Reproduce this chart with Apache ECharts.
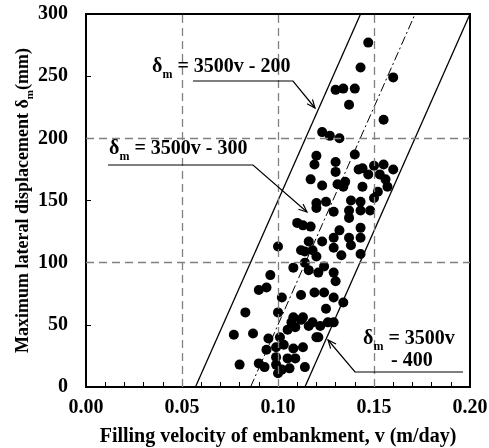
<!DOCTYPE html>
<html>
<head>
<meta charset="utf-8">
<script src="https://cdn.jsdelivr.net/npm/echarts@6/dist/echarts.min.js"></script>
<style>
  html, body { margin: 0; padding: 0; background: #fff; }
  #chart { width: 489px; height: 448px; }
</style>
</head>
<body>
<div id="chart"></div>
<script>
// measured points: filling velocity v (m/day) and max lateral displacement (mm)
const velocity = [
  0.147, 0.143, 0.160, 0.130, 0.134, 0.140, 0.137, 0.155, 0.123, 0.127,
  0.132, 0.120, 0.119, 0.130, 0.130, 0.140, 0.117, 0.123, 0.131, 0.135,
  0.134, 0.144, 0.142, 0.150, 0.155, 0.160, 0.147, 0.153, 0.156, 0.144,
  0.157, 0.152, 0.150, 0.143, 0.138, 0.120, 0.125, 0.120, 0.129, 0.137,
  0.143, 0.148, 0.137, 0.117, 0.113, 0.143, 0.132, 0.129, 0.123, 0.137,
  0.143, 0.116, 0.129, 0.138, 0.133, 0.143, 0.120, 0.114, 0.110, 0.100,
  0.112, 0.118, 0.114, 0.108, 0.116, 0.121, 0.124, 0.096, 0.094, 0.090,
  0.102, 0.112, 0.119, 0.124, 0.083, 0.100, 0.108, 0.125, 0.107, 0.112,
  0.116, 0.122, 0.077, 0.087, 0.095, 0.101, 0.105, 0.109, 0.120, 0.126,
  0.094, 0.099, 0.103, 0.108, 0.113, 0.099, 0.105, 0.109, 0.080, 0.090,
  0.093, 0.099, 0.102, 0.106, 0.114, 0.100, 0.129, 0.130, 0.129, 0.134,
  0.113, 0.118, 0.129, 0.121
];
const displacement = [
  277, 257, 249, 239, 240, 240, 227, 215, 205, 202,
  200, 186, 179, 181, 173, 187, 167, 162, 163, 165,
  161, 176, 175, 178, 179, 175, 171, 171, 167, 161,
  161, 157, 152, 149, 150, 148, 149, 144, 141, 142,
  142, 142, 136, 129, 130, 128, 126, 120, 117, 120,
  120, 117, 112, 114, 106, 107, 105, 109, 132, 113,
  110, 110, 100, 96, 94, 92, 97, 90, 80, 78,
  72, 74, 76, 76, 60, 60, 56, 63, 52, 54,
  49, 49, 42, 43, 39, 40, 46, 48, 40, 52,
  30, 32, 34, 31, 32, 24, 23, 23, 18, 19,
  16, 18, 14, 15, 16, 11, 92, 85, 72, 68,
  56, 52, 52, 40
];

// bounding lines: delta_m = 3500v - 200 / - 300 / - 400
const upperLine = [[0.057, 0], [0.143, 300]];
const middleLine = [[0.0857, 0], [0.1714, 300]];
const lowerLine = [[0.114, 0], [0.200, 300]];

const xGridValues = [0.05, 0.10, 0.15];
const yGridValues = [100, 200];

const FONT = 'Liberation Serif';

const points = velocity.map((v, i) => [v, displacement[i]]);

// leader line with open arrowhead at the last point
function leader(pts) {
  const n = pts.length;
  const [x1, y1] = pts[n - 2];
  const [x2, y2] = pts[n - 1];
  const a = Math.atan2(y2 - y1, x2 - x1);
  const len = 9, spread = 0.4;
  const head = [
    [x2 - len * Math.cos(a - spread), y2 - len * Math.sin(a - spread)],
    [x2, y2],
    [x2 - len * Math.cos(a + spread), y2 - len * Math.sin(a + spread)]
  ];
  const style = { stroke: '#000', lineWidth: 1.2, fill: null };
  return [
    { type: 'polyline', shape: { points: pts }, style: style, z: 20 },
    { type: 'polyline', shape: { points: head }, style: style, z: 20 }
  ];
}

const labelRich = {
  b: { fontFamily: FONT, fontWeight: 'bold', fontSize: 20, lineHeight: 22, verticalAlign: 'bottom' },
  s: { fontFamily: FONT, fontWeight: 'bold', fontSize: 12, lineHeight: 22, verticalAlign: 'bottom', padding: [0, 0, -4, 0] }
};

function label(x, y, text) {
  return {
    type: 'text', x: x, y: y, z: 20,
    style: { text: text, fill: '#000', rich: labelRich }
  };
}

const chart = echarts.init(document.getElementById('chart'));

const option = {
  animation: false,
  backgroundColor: '#fff',
  grid: {
    left: 86, right: 19, top: 14, bottom: 61,
    outerBoundsMode: 'none',
    show: true, borderColor: '#000', borderWidth: 2, backgroundColor: 'transparent'
  },
  xAxis: {
    type: 'value', min: 0, max: 0.2, interval: 0.05,
    name: 'Filling velocity of embankment, v (m/day)',
    nameLocation: 'middle', nameGap: 40,
    nameTextStyle: { fontFamily: FONT, fontWeight: 'bold', fontSize: 20, color: '#000' },
    axisLine: { lineStyle: { color: '#000', width: 2 } },
    axisTick: { inside: true, length: 5, lineStyle: { color: '#000' } },
    minorTick: { show: true, splitNumber: 5, length: 5, lineStyle: { color: '#000' } },
    axisLabel: {
      margin: 11, color: '#000', fontFamily: FONT, fontWeight: 'bold', fontSize: 20,
      formatter: v => v.toFixed(2)
    },
    splitLine: { show: false }
  },
  yAxis: {
    type: 'value', min: 0, max: 300, interval: 50,
    name: '{b|Maximum lateral displacement δ}{s|m}{b|(mm)}',
    nameLocation: 'middle', nameGap: 54, nameRotate: 90,
    nameMoveOverlap: false,
    nameTextStyle: {
      color: '#000',
      rich: {
        b: { fontFamily: FONT, fontWeight: 'bold', fontSize: 18, lineHeight: 20, verticalAlign: 'bottom' },
        s: { fontFamily: FONT, fontWeight: 'bold', fontSize: 11, lineHeight: 20, verticalAlign: 'bottom', padding: [0, 0, -4, 0] }
      }
    },
    axisLine: { lineStyle: { color: '#000', width: 2 } },
    axisTick: { inside: true, length: 5, lineStyle: { color: '#000' } },
    axisLabel: { margin: 18, color: '#000', fontFamily: FONT, fontWeight: 'bold', fontSize: 20 },
    splitLine: { show: false }
  },
  series: [
    {
      // dashed reference grid
      type: 'line', data: [], z: 1,
      markLine: {
        silent: true, symbol: 'none', label: { show: false },
        lineStyle: { color: '#808080', width: 1.3, type: [8, 5] },
        data: xGridValues.map(v => ({ xAxis: v })).concat(yGridValues.map(v => ({ yAxis: v })))
      }
    },
    {
      type: 'line', data: upperLine, symbol: 'none', z: 3,
      lineStyle: { color: '#000', width: 1.3 }
    },
    {
      type: 'line', data: middleLine, symbol: 'none', z: 3,
      lineStyle: { color: '#000', width: 1, type: [9, 3, 2, 3] }
    },
    {
      type: 'line', data: lowerLine, symbol: 'none', z: 3,
      lineStyle: { color: '#000', width: 1.3 }
    },
    {
      type: 'scatter', data: points, symbol: 'circle', symbolSize: 10, z: 4,
      itemStyle: { color: '#000', opacity: 1 }
    }
  ],
  graphic: [
    label(152, 55, '{b|δ}{s|m}{b| = 3500v - 200}'),
    ...leader([[193, 81], [293, 81], [315, 108]]),
    label(109, 137, '{b|δ}{s|m}{b| = 3500v - 300}'),
    ...leader([[108, 165], [253, 165], [307, 212]]),
    label(363, 327, '{b|δ}{s|m}{b| = 3500v}'),
    label(391, 349, '{b|- 400}'),
    ...leader([[463, 372], [355, 372], [328, 340]])
  ]
};

chart.setOption(option);
</script>
</body>
</html>
